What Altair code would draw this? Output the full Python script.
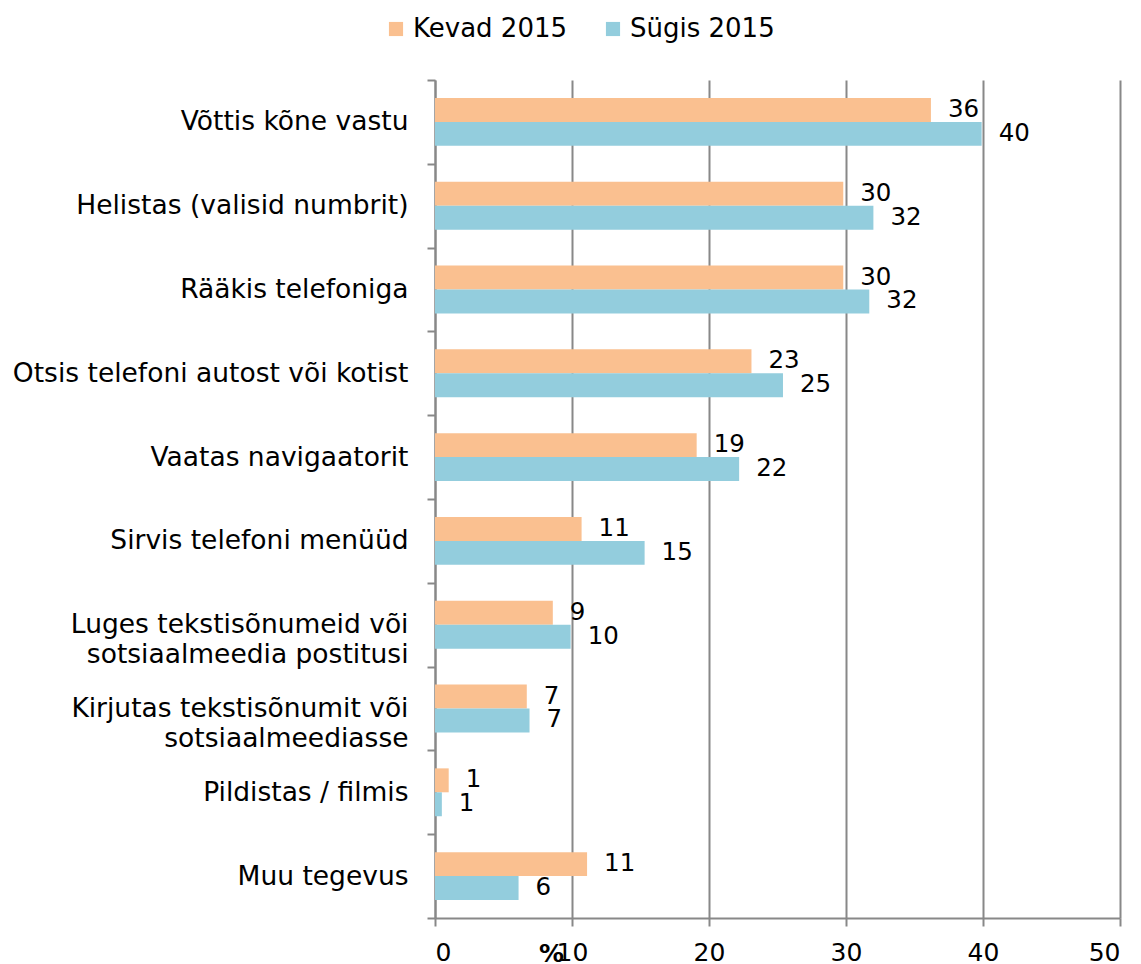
import altair as alt
import pandas as pd

categories = [
    "Võttis kõne vastu",
    "Helistas (valisid numbrit)",
    "Rääkis telefoniga",
    "Otsis telefoni autost või kotist",
    "Vaatas navigaatorit",
    "Sirvis telefoni menüüd",
    "Luges tekstisõnumeid või|sotsiaalmeedia postitusi",
    "Kirjutas tekstisõnumit või|sotsiaalmeediasse",
    "Pildistas / filmis",
    "Muu tegevus",
]
series = ["Kevad 2015", "Sügis 2015"]
kevad = [36.2, 29.8, 29.8, 23.1, 19.1, 10.7, 8.6, 6.7, 1.0, 11.1]
sugis = [39.9, 32.0, 31.7, 25.4, 22.2, 15.3, 9.9, 6.9, 0.5, 6.1]
colors = ["#FAC090", "#93CDDD"]
x_ticks = [0, 10, 20, 30, 40, 50]

rows = []
for c, k, s in zip(categories, kevad, sugis):
    rows.append({"cat": c, "series": series[0], "value": k})
    rows.append({"cat": c, "series": series[1], "value": s})
df = pd.DataFrame(rows)

FONT = "DejaVu Sans"
GRAY = "#888888"

y_enc = alt.Y(
    "cat:N",
    sort=categories,
    scale=alt.Scale(paddingInner=0, paddingOuter=0),
    axis=alt.Axis(
        title=None,
        tickBand="extent",
        labelExpr="split(datum.label, '|')",
        labelFont=FONT,
        labelFontSize=26.5,
        labelColor="#000000",
        labelLineHeight=30,
        labelPadding=19,
        labelAlign="right",
        tickSize=8,
        tickColor=GRAY,
        tickWidth=2,
        domainColor=GRAY,
        domainWidth=2,
        grid=False,
        labelLimit=700,
    ),
)
yoff = alt.YOffset(
    "series:N",
    sort=series,
    scale=alt.Scale(paddingInner=0, paddingOuter=0.75),
)
x_enc = alt.X(
    "value:Q",
    scale=alt.Scale(domain=[0, 50], nice=False),
    axis=alt.Axis(
        values=x_ticks,
        title="%",
        titleFont=FONT,
        titleFontSize=25,
        titleFontWeight="bold",
        titleColor="#000000",
        titleX=116,
        titleY=35,
        titleBaseline="middle",
        titleAlign="center",
        labelFont=FONT,
        labelFontSize=25,
        labelColor="#000000",
        labelPadding=14,
        tickSize=8,
        tickColor=GRAY,
        tickWidth=2,
        domainColor=GRAY,
        domainWidth=2,
        grid=True,
        gridColor=GRAY,
        gridWidth=2,
    ),
)

bars = alt.Chart(df).mark_bar().encode(
    x=x_enc,
    y=y_enc,
    yOffset=yoff,
    color=alt.Color(
        "series:N",
        sort=series,
        scale=alt.Scale(domain=series, range=colors),
        legend=alt.Legend(
            title=None,
            orient="none",
            legendX=-52,
            legendY=-64,
            direction="horizontal",
            symbolType="square",
            symbolSize=200,
            symbolStrokeWidth=0,
            labelFont=FONT,
            labelFontSize=26,
            labelColor="#000000",
            labelOffset=4,
            columnPadding=32,
            labelLimit=400,
        ),
    ),
)

labels = alt.Chart(df).mark_text(
    align="left", baseline="middle", dx=17, font=FONT, fontSize=24.5, color="#000000"
).encode(
    x="value:Q",
    y=alt.Y("cat:N", sort=categories),
    yOffset=alt.YOffset("series:N", sort=series),
    text=alt.Text("value:Q", format=".0f"),
)

chart = (
    alt.layer(bars, labels)
    .properties(
        width=685,
        height=838,
        autosize=alt.AutoSizeParams(type="none"),
        padding={"left": 427, "top": 72, "right": 8, "bottom": 46},
    )
    .configure_view(stroke=None)
)

chart.save("out.html", embed_options={"renderer": "svg", "actions": False})
